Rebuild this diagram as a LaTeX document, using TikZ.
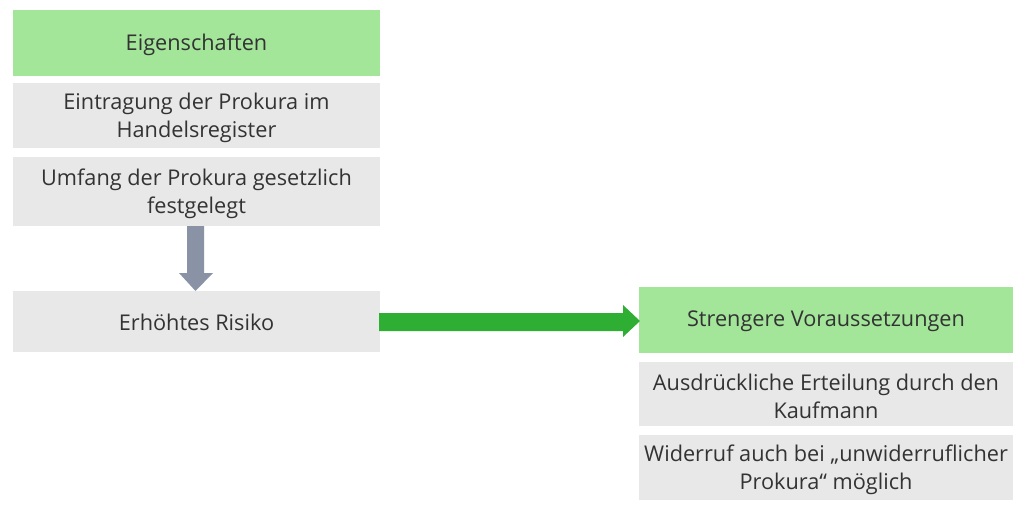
\documentclass[tikz,border=0pt]{standalone}
\usepackage{fontspec}
\setmainfont{Open Sans}
\definecolor{boxgreen}{HTML}{A3E69A}
\definecolor{boxgray}{HTML}{E8E8E8}
\definecolor{txt}{HTML}{333333}
\definecolor{arrgray}{HTML}{8A93A6}
\definecolor{arrgreen}{HTML}{2EAF34}
\begin{document}
\begin{tikzpicture}[x=1pt,y=-1pt,
  cell/.style={inner sep=0pt,outer sep=0pt,text=txt,font=\fontsize{21.7}{28}\selectfont,align=center},
]
\useasboundingbox[fill=white] (0,0) rectangle (1028,516);
% left column
\fill[boxgreen] (13,10) rectangle (380,76);
\node[cell] (eig) at (196.5,45) {Eigenschaften};
\fill[boxgray] (13,83) rectangle (380,148);
\node[cell] (ein) at (196.5,118) {Eintragung der Prokura im\\Handelsregister};
\fill[boxgray] (13,157) rectangle (380,226);
\node[cell] (umf) at (196.5,194) {Umfang der Prokura gesetzlich\\festgelegt};
\fill[boxgray] (13,291) rectangle (380,352);
\node[cell] (ris) at (196.5,322) {Erhöhtes Risiko};
% right column
\fill[boxgreen] (639,287) rectangle (1013,353);
\node[cell] (str) at (826,321) {Strengere Voraussetzungen};
\fill[boxgray] (639,362) rectangle (1013,426);
\node[cell] (aus) at (826,396) {Ausdrückliche Erteilung durch den\\Kaufmann};
\fill[boxgray] (639,435) rectangle (1013,500);
\node[cell] (wid) at (826,470) {Widerruf auch bei „unwiderruflicher\\Prokura“ möglich};
% arrows
\coordinate (a1) at (195.5,226);
\coordinate (a2) at (195.5,291);
\fill[arrgray] (187,226) -- (204,226) -- (204,273) -- (213,273) -- (195.5,291) -- (179,273) -- (187,273) -- cycle;
\fill[arrgreen] (379,313) -- (623,313) -- (623,305) -- (640,321) -- (623,337) -- (623,331) -- (379,331) -- cycle;
\end{tikzpicture}
\end{document}
